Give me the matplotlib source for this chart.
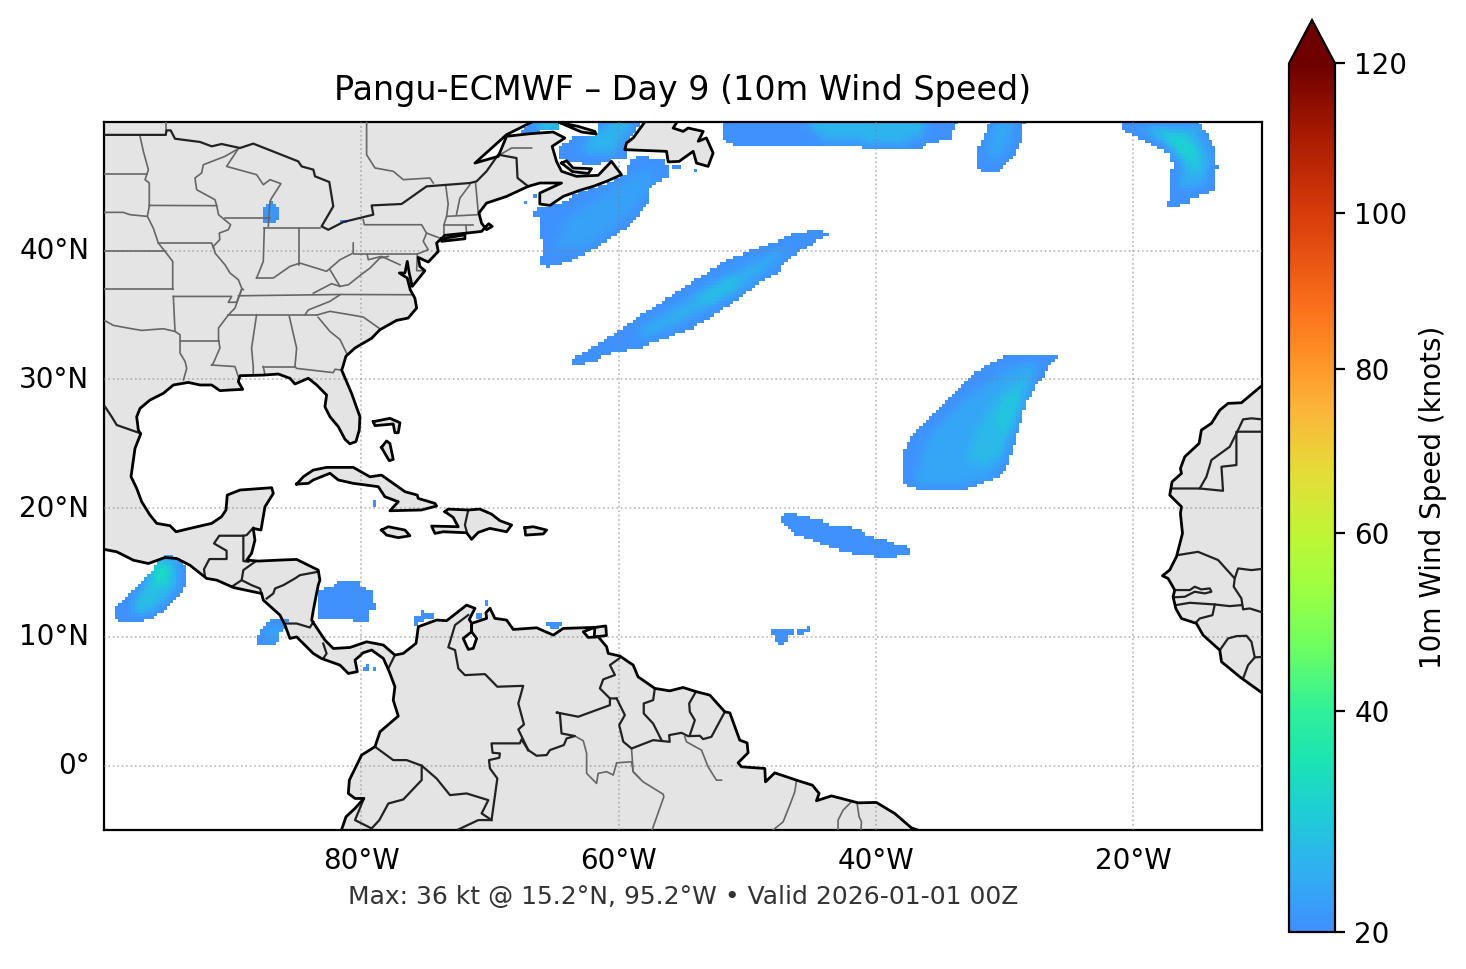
"""Pangu-ECMWF day 9 10m wind speed map over the tropical Atlantic."""

import matplotlib

matplotlib.use("Agg")

import matplotlib.pyplot as plt
import numpy as np
from matplotlib.colors import LinearSegmentedColormap, PowerNorm
from matplotlib.path import Path
from matplotlib.transforms import ScaledTranslation

TITLE = "Pangu-ECMWF – Day 9 (10m Wind Speed)"
FOOTER = "Max: 36 kt @ 15.2°N, 95.2°W • Valid 2026-01-01 00Z"
CBAR_LABEL = "10m Wind Speed (knots)"
CBAR_TICKS = [20, 40, 60, 80, 100, 120]
LON_TICKS = [-80, -60, -40, -20]
LON_LABELS = ["80°W", "60°W", "40°W", "20°W"]
LAT_TICKS = [0, 10, 20, 30, 40]
LAT_LABELS = ["0°", "10°N", "20°N", "30°N", "40°N"]

# colour stops (position along the bar, colour)
CMAP_STOPS = [
    (0.0, "#4090ff"), (0.07, "#2fb0f0"), (0.14, "#1dcfd5"), (0.2, "#1ce5b0"),
    (0.2535, "#2ff09a"), (0.33, "#70ff60"), (0.4, "#a0ff3f"), (0.4585, "#c0f535"),
    (0.53, "#e5dc37"), (0.6, "#fbb63a"), (0.647, "#ff9a2a"), (0.72, "#fa701b"),
    (0.827, "#d83c0b"), (0.92, "#a81a02"), (1.0, "#6e0000"),
]

# land outlines, lon/lat
AMERICAS = [
    (-66.0, 50.4), (-66.9, 49.92), (-68.71, 49.02), (-71.17, 46.81), (-69.36, 47.33), (-68.71, 48.89),
    (-66.9, 49.09), (-65.09, 49.22), (-64.18, 48.76), (-65.17, 48.11), (-64.83, 46.94), (-64.44, 46.17),
    (-63.28, 45.78), (-61.59, 45.86), (-60.56, 46.94), (-59.78, 45.91), (-60.95, 45.39), (-61.98, 45.0),
    (-63.0, 44.7), (-64.31, 44.22), (-65.35, 43.52), (-66.13, 43.63), (-66.13, 44.48), (-64.44, 45.26),
    (-66.13, 45.26), (-67.03, 45.0), (-68.71, 44.22), (-70.27, 43.7), (-70.86, 42.93), (-70.66, 42.15),
    (-70.27, 41.63), (-69.83, 41.89), (-70.1, 42.1), (-70.66, 41.5), (-71.82, 41.37), (-73.5, 41.2),
    (-74.0, 40.73), (-74.15, 40.6), (-74.02, 39.95), (-74.8, 39.12), (-75.58, 39.48), (-75.45, 38.78),
    (-75.06, 38.45), (-76.04, 37.23), (-76.28, 38.27), (-76.43, 39.17), (-76.61, 38.27), (-77.05, 38.27),
    (-76.43, 37.88), (-76.2, 36.97), (-75.84, 36.32), (-75.7, 35.55), (-76.36, 34.77), (-77.26, 34.59),
    (-78.56, 33.86), (-79.2, 33.2), (-80.5, 32.44), (-81.2, 31.8), (-81.45, 30.94), (-81.53, 30.73),
    (-80.76, 28.92), (-80.11, 27.11), (-80.16, 26.07), (-80.42, 25.17), (-80.89, 25.0), (-81.27, 25.35),
    (-81.79, 26.33), (-82.44, 27.11), (-82.83, 27.88), (-82.7, 28.79), (-83.47, 29.57), (-84.12, 30.09),
    (-85.16, 29.65), (-85.55, 30.09), (-86.45, 30.42), (-87.62, 30.34), (-89.43, 30.29), (-89.56, 29.83),
    (-89.22, 29.23), (-90.21, 29.18), (-90.99, 29.13), (-91.63, 29.57), (-92.54, 29.57), (-93.45, 29.77),
    (-94.61, 29.57), (-95.39, 28.92), (-96.43, 28.4), (-97.2, 27.75), (-97.46, 27.1), (-97.33, 26.07),
    (-97.15, 25.76), (-97.59, 24.65), (-97.72, 23.74), (-97.9, 22.45), (-97.46, 21.54), (-97.07, 20.5),
    (-96.43, 19.47), (-95.9, 18.82), (-94.87, 18.64), (-94.4, 18.17), (-93.32, 18.43), (-91.63, 18.82),
    (-90.86, 19.34), (-90.52, 19.86), (-90.42, 21.02), (-89.43, 21.41), (-86.97, 21.59), (-86.84, 21.15),
    (-87.49, 20.11), (-87.62, 19.34), (-87.8, 18.3), (-88.4, 18.43), (-88.27, 17.52), (-88.53, 16.49),
    (-88.91, 15.97), (-88.01, 15.89), (-86.32, 15.97), (-85.03, 16.02), (-83.35, 15.19), (-83.22, 14.42),
    (-83.35, 14.02), (-83.48, 13.38), (-83.73, 12.08), (-83.86, 11.3), (-82.83, 9.75), (-82.18, 9.1),
    (-80.88, 9.18), (-79.59, 9.62), (-78.29, 9.37), (-77.39, 8.59), (-76.74, 8.72), (-75.75, 9.5),
    (-75.57, 10.79), (-74.15, 11.31), (-73.37, 11.26), (-71.82, 12.47), (-71.17, 12.22), (-71.61, 11.36),
    (-71.43, 11.05), (-71.43, 10.4), (-72.08, 9.88), (-71.69, 9.03), (-71.3, 9.11), (-71.04, 9.88),
    (-71.43, 10.4), (-71.43, 11.05), (-70.26, 11.44), (-70.32, 11.88), (-70.0, 12.22), (-69.62, 11.44),
    (-68.71, 11.31), (-68.19, 10.58), (-66.38, 10.71), (-65.08, 10.14), (-64.31, 10.66), (-61.85, 10.74),
    (-62.75, 10.4), (-62.36, 9.96), (-61.59, 10.01), (-60.94, 9.24), (-60.81, 8.72), (-59.9, 8.51),
    (-58.87, 7.81), (-58.49, 6.9), (-57.19, 6.0), (-56.03, 5.81), (-54.99, 6.07), (-53.95, 5.74),
    (-52.92, 5.48), (-51.75, 4.18), (-51.36, 4.1), (-50.59, 1.98), (-50.02, 1.77), (-49.94, 1.0),
    (-50.72, 0.22), (-50.46, -0.09), (-48.64, -0.22), (-48.59, -1.26), (-47.87, -0.56), (-46.18, -1.13),
    (-44.94, -1.52), (-44.42, -2.16), (-44.63, -2.73), (-43.46, -2.35), (-41.39, -2.89), (-39.97, -2.86),
    (-38.54, -3.72), (-37.25, -4.83), (-36.6, -5.06), (-36.0, -6.0), (-82.0, -6.0), (-81.53, -4.96),
    (-81.19, -3.97), (-80.49, -3.32), (-79.8, -2.55), (-80.49, -2.55), (-81.01, -2.16), (-80.93, -1.12),
    (-80.36, 0.04), (-79.98, 0.82), (-78.94, 1.47), (-78.55, 2.63), (-77.13, 3.85), (-77.52, 5.09),
    (-77.39, 6.13), (-77.83, 7.3), (-78.29, 8.33), (-79.2, 8.98), (-79.85, 8.77), (-80.49, 8.2),
    (-80.31, 7.3), (-81.01, 7.16), (-81.66, 7.81), (-83.09, 8.32), (-83.73, 8.71), (-85.03, 10.0),
    (-85.55, 9.88), (-85.93, 10.91), (-86.32, 11.69), (-87.62, 12.86), (-87.75, 13.37), (-89.95, 13.84),
    (-91.24, 14.41), (-92.02, 14.54), (-93.32, 15.57), (-94.35, 16.09), (-95.26, 16.17), (-96.55, 15.7),
    (-97.72, 15.96), (-99.0, 16.61), (-100.0, 16.8), (-101.0, 16.9), (-101.0, 51.0), (-66.0, 51.0),
]
AFRICA = [
    (-9.0, 30.0), (-10.12, 29.43), (-11.6, 28.19), (-12.64, 28.14), (-13.28, 27.62), (-13.93, 26.59),
    (-14.71, 26.07), (-14.89, 25.03), (-16.0, 24.0), (-16.34, 23.09), (-16.26, 22.7), (-16.99, 22.05),
    (-17.17, 21.02), (-16.26, 20.11), (-16.34, 19.59), (-16.18, 18.04), (-16.65, 16.23), (-17.17, 15.2),
    (-17.74, 14.75), (-17.3, 14.54), (-16.78, 13.64), (-16.91, 13.12), (-16.7, 12.21), (-16.26, 11.43),
    (-15.1, 11.05), (-14.58, 10.14), (-13.28, 8.97), (-13.15, 8.07), (-11.73, 6.9), (-10.12, 5.74), (-9.0, 5.0),
]
NEWFOUNDLAND = [
    (-57.7, 51.0), (-57.97, 50.0), (-58.87, 48.76), (-59.39, 48.37), (-59.52, 47.85), (-56.28, 47.72),
    (-56.15, 46.9), (-55.3, 46.94), (-54.21, 47.72), (-53.95, 46.81), (-53.05, 46.55), (-52.66, 47.59),
    (-53.18, 48.76), (-53.82, 48.5), (-53.43, 49.27), (-54.6, 49.53), (-54.99, 49.27), (-55.77, 49.53),
    (-55.51, 49.92), (-55.3, 51.0),
]
ANTICOSTI = [(-64.57, 49.95), (-63.15, 49.66), (-61.85, 49.27), (-61.77, 49.07), (-62.89, 49.22)]
PEI = [(-64.44, 46.81), (-64.05, 46.99), (-63.54, 46.43), (-62.11, 46.37), (-62.37, 46.0), (-63.6, 46.15)]
LONG_ISLAND = [(-73.76, 40.93), (-71.95, 41.24), (-71.95, 40.93), (-73.76, 40.73)]
CUBA = [
    (-85.03, 21.87), (-84.5, 22.45), (-83.74, 22.96), (-82.7, 23.17), (-80.63, 23.17), (-79.33, 22.44),
    (-78.43, 22.57), (-76.61, 21.28), (-75.65, 21.02), (-75.58, 20.76), (-74.28, 20.37), (-74.15, 20.17),
    (-75.32, 19.86), (-77.78, 19.8), (-77.13, 20.5), (-78.17, 20.89), (-78.68, 21.67), (-80.63, 21.93),
    (-81.79, 22.19), (-82.44, 22.71), (-83.74, 22.19), (-84.12, 21.93),
]
GRAND_BAHAMA = [
    (-79.07, 26.72), (-77.78, 26.98), (-77.0, 26.64), (-77.13, 25.86), (-77.39, 25.86), (-77.52, 26.54), (-78.94, 26.41),
]
ANDROS = [(-78.43, 24.72), (-78.04, 25.22), (-77.78, 25.03), (-77.52, 23.79), (-77.83, 23.69), (-78.17, 24.26)]
JAMAICA = [(-78.43, 18.3), (-77.91, 18.56), (-76.61, 18.3), (-76.22, 17.86), (-77.13, 17.71), (-78.04, 17.91)]
HISPANIOLA = [
    (-73.5, 19.73), (-73.25, 19.93), (-71.69, 19.86), (-70.79, 19.93), (-69.88, 19.54), (-69.23, 19.03),
    (-68.32, 18.69), (-68.71, 18.17), (-70.01, 18.43), (-70.91, 18.12), (-71.43, 17.58), (-71.82, 18.09),
    (-73.63, 18.17), (-74.28, 18.04), (-74.54, 18.61), (-72.47, 18.56), (-72.86, 19.28),
]
PUERTO_RICO = [(-67.29, 18.48), (-66.64, 18.56), (-65.6, 18.3), (-65.86, 18.0), (-67.24, 17.91)]
TRINIDAD = [(-61.85, 10.74), (-61.0, 10.85), (-60.95, 10.1), (-61.9, 10.0)]
LANDS = [
    AMERICAS, AFRICA, NEWFOUNDLAND, ANTICOSTI, PEI, LONG_ISLAND, CUBA, GRAND_BAHAMA,
    ANDROS, JAMAICA, HISPANIOLA, PUERTO_RICO, TRINIDAD,
]

# country borders, lon/lat
BORDERS = [
    [(-101.0, 49.0), (-95.21, 49.0), (-95.13, 49.35), (-94.82, 49.35), (-94.48, 48.7), (-92.54, 48.45),
     (-91.63, 48.11), (-90.86, 48.29), (-89.43, 47.98), (-88.4, 48.32), (-84.9, 46.94), (-84.64, 46.55),
     (-83.73, 46.3), (-83.6, 45.78), (-82.49, 45.34), (-82.18, 43.45), (-83.09, 41.89), (-82.57, 41.63),
     (-81.4, 42.23), (-79.07, 42.8), (-79.2, 43.52), (-76.87, 43.63), (-74.93, 45.0), (-71.56, 45.26),
     (-71.04, 45.39), (-70.27, 46.17), (-69.36, 47.46), (-67.94, 47.2), (-67.86, 45.65), (-67.03, 45.0)],
    [(-99.92, 27.88), (-99.4, 27.1), (-99.01, 26.46), (-97.15, 25.81)],
    [(-92.15, 14.67), (-92.23, 15.25), (-91.81, 16.05), (-90.47, 16.05), (-90.47, 16.69), (-91.45, 17.26),
     (-91.04, 17.86), (-89.17, 17.86), (-89.17, 15.89), (-88.78, 15.84)],
    [(-89.17, 17.86), (-88.91, 17.91), (-88.4, 18.48)],
    [(-88.27, 15.83), (-89.17, 15.19), (-89.3, 14.41), (-90.08, 13.89)],
    [(-89.3, 14.41), (-88.53, 14.02), (-87.88, 13.76), (-87.75, 13.37)],
    [(-87.36, 12.98), (-86.84, 13.37), (-86.71, 13.76), (-86.06, 14.02), (-85.16, 14.54), (-84.77, 14.8), (-83.35, 15.06)],
    [(-85.81, 11.04), (-85.03, 11.04), (-84.0, 10.73), (-83.73, 11.17)],
    [(-82.96, 9.48), (-82.7, 8.71), (-82.96, 8.32)],
    [(-77.39, 8.59), (-77.9, 7.55)],
    [(-71.69, 11.7), (-72.72, 10.92), (-73.24, 9.19), (-72.72, 8.98), (-72.46, 7.55), (-71.95, 7.03),
     (-70.39, 7.11), (-69.43, 6.13), (-67.42, 6.2), (-67.8, 4.83), (-67.36, 3.2), (-67.8, 2.81), (-67.03, 1.21)],
    [(-67.03, 1.21), (-67.55, 2.04), (-67.68, 1.73), (-69.88, 1.73), (-69.8, 1.0), (-69.23, 0.95), (-69.28, 0.61),
     (-70.08, 0.43), (-70.0, -0.22), (-69.43, -1.0), (-69.88, -4.23)],
    [(-67.03, 1.21), (-66.38, 0.77), (-65.6, 0.82), (-65.34, 1.21), (-64.26, 1.6), (-64.05, 2.11), (-63.4, 2.3),
     (-64.44, 2.5), (-64.57, 4.06), (-64.83, 4.13), (-63.14, 3.8), (-60.68, 4.7), (-60.68, 5.22), (-60.16, 5.22)],
    [(-59.95, 8.33), (-60.68, 7.81), (-60.29, 7.04), (-61.2, 6.7), (-61.46, 6.0), (-60.68, 5.22)],
    [(-60.16, 5.22), (-59.52, 3.93), (-59.96, 3.15), (-59.64, 1.86), (-59.0, 1.33), (-57.32, 1.98), (-56.03, 1.85),
     (-56.08, 2.37), (-55.12, 2.55), (-54.6, 2.29), (-53.69, 2.32), (-53.44, 2.06), (-52.79, 2.24), (-51.75, 4.18)],
    [(-57.19, 6.0), (-57.32, 5.09), (-58.05, 4.83), (-58.05, 4.05), (-57.32, 3.27), (-56.67, 1.98)],
    [(-54.0, 5.74), (-54.52, 4.83), (-54.47, 4.18), (-54.08, 3.53), (-54.47, 2.37)],
    [(-78.94, 1.47), (-77.52, 0.43), (-76.48, 0.43), (-75.31, 0.0), (-74.15, -1.0), (-73.11, -2.29), (-71.82, -2.16),
     (-70.13, -2.68), (-70.65, -3.71), (-69.88, -4.23), (-70.91, -4.23), (-72.46, -4.96)],
    [(-75.31, 0.0), (-75.31, -1.12), (-76.74, -2.63), (-77.9, -2.94), (-78.6, -4.23), (-79.2, -4.88),
     (-80.49, -4.23), (-79.8, -2.55)],
    [(-17.04, 21.53), (-14.84, 21.53), (-13.03, 21.35), (-13.15, 23.22), (-11.99, 23.35), (-11.99, 25.94), (-9.0, 25.94)],
    [(-14.84, 21.53), (-14.32, 22.44), (-13.93, 23.74), (-12.51, 24.77), (-11.86, 26.07), (-11.47, 26.9),
     (-10.82, 26.98), (-9.0, 26.8)],
    [(-16.52, 16.36), (-14.97, 16.61), (-13.41, 15.97), (-12.12, 14.54), (-11.86, 15.32), (-10.82, 15.19), (-9.0, 15.4)],
    [(-12.12, 14.54), (-12.2, 13.9), (-11.6, 12.99), (-11.47, 12.14), (-10.95, 12.21), (-9.0, 11.6)],
    [(-16.78, 13.64), (-15.61, 13.64), (-15.23, 13.9), (-14.71, 13.69), (-14.06, 13.77), (-13.93, 13.51),
     (-14.45, 13.38), (-15.23, 13.51), (-16.0, 13.12), (-16.91, 13.07)],
    [(-16.7, 12.47), (-15.61, 12.65), (-13.67, 12.52), (-12.51, 12.39), (-11.6, 12.47)],
    [(-13.67, 12.52), (-13.85, 11.69), (-14.84, 11.43), (-15.15, 11.1)],
    [(-13.28, 8.97), (-12.64, 9.88), (-11.99, 10.06), (-11.21, 10.09), (-10.82, 9.62), (-10.56, 8.41), (-9.0, 8.5)],
    [(-10.56, 8.41), (-11.08, 7.81), (-11.42, 6.9)],
]
HAITI_BORDER = [(-71.69, 19.86), (-71.95, 18.69), (-71.77, 18.04)]

# state and province lines, lon/lat
STATES = [
    [(-95.21, 49.0), (-95.21, 51.0)],
    [(-79.59, 51.0), (-79.59, 47.46), (-78.94, 46.43), (-77.52, 46.17), (-76.74, 45.52), (-74.67, 45.65), (-74.41, 45.26)],
    [(-69.23, 47.46), (-68.32, 47.98), (-66.77, 47.98)],
    [(-97.2, 48.89), (-96.94, 47.72), (-96.55, 46.3), (-96.81, 45.52), (-96.48, 45.26), (-96.48, 43.52)],
    [(-101.0, 45.96), (-96.68, 45.96)],
    [(-101.0, 42.98), (-98.5, 42.98), (-97.98, 42.8), (-96.68, 42.67)],
    [(-96.48, 43.52), (-91.24, 43.5)],
    [(-96.48, 43.45), (-96.63, 42.67), (-96.17, 41.76), (-95.78, 40.6), (-95.26, 39.95), (-94.66, 39.17), (-94.66, 37.0)],
    [(-95.78, 40.6), (-91.63, 40.6), (-91.5, 40.2)],
    [(-101.0, 40.0), (-95.26, 40.0)],
    [(-101.0, 37.0), (-94.66, 37.0)],
    [(-94.61, 36.45), (-90.08, 36.45), (-90.34, 35.99), (-89.69, 36.0), (-89.3, 37.0)],
    [(-89.56, 47.93), (-90.6, 47.33), (-92.28, 46.68), (-92.41, 46.04), (-92.93, 45.65), (-92.8, 44.74), (-91.37, 43.96),
     (-91.24, 43.5), (-91.1, 42.8), (-90.16, 42.02), (-90.34, 41.63), (-91.04, 41.37), (-91.0, 40.86), (-91.5, 40.34),
     (-91.37, 39.82), (-90.6, 38.91), (-90.21, 38.27), (-89.56, 37.75), (-89.3, 37.1), (-89.17, 36.97)],
    [(-89.56, 47.93), (-90.47, 46.55), (-88.14, 45.91), (-87.62, 45.13), (-87.1, 45.52), (-86.25, 45.21), (-86.97, 44.09),
     (-87.1, 43.83), (-87.23, 41.9)],
    [(-90.6, 42.54), (-87.1, 42.54)],
    [(-87.54, 41.76), (-87.62, 39.17), (-88.14, 37.88)],
    [(-84.82, 41.76), (-84.82, 38.91)],
    [(-87.54, 41.76), (-83.2, 41.76)],
    [(-88.14, 37.88), (-86.84, 37.88), (-85.55, 38.78), (-84.77, 39.04), (-82.7, 38.4), (-81.66, 39.3), (-80.63, 39.82), (-80.63, 40.6)],
    [(-89.56, 36.5), (-81.66, 36.6), (-75.97, 36.58)],
    [(-89.3, 37.0), (-89.82, 35.55), (-90.34, 35.0), (-91.1, 34.0), (-91.1, 33.09), (-90.99, 32.44), (-91.5, 31.27), (-91.63, 31.12)],
    [(-90.34, 35.0), (-83.47, 35.0)],
    [(-88.14, 35.03), (-88.53, 32.44), (-88.4, 31.0), (-88.4, 30.47)],
    [(-85.6, 34.9), (-85.03, 32.44), (-85.16, 31.0), (-85.03, 30.86), (-82.18, 30.53), (-82.05, 30.79), (-81.53, 30.73)],
    [(-83.35, 34.82), (-82.44, 33.73), (-81.66, 33.1), (-81.15, 32.05)],
    [(-83.47, 35.0), (-82.44, 35.29), (-80.89, 35.03), (-79.85, 34.85), (-78.56, 33.94)],
    [(-84.38, 35.03), (-84.12, 35.4), (-82.44, 36.07), (-81.66, 36.58)],
    [(-83.73, 36.7), (-82.31, 37.44), (-81.66, 37.23), (-81.0, 37.36), (-79.85, 38.27), (-79.33, 38.65), (-78.56, 39.43), (-77.9, 39.56)],
    [(-82.44, 38.53), (-81.66, 37.23)],
    [(-80.58, 39.74), (-75.7, 39.74)],
    [(-94.61, 36.45), (-94.48, 33.73), (-94.09, 33.47), (-94.09, 33.0), (-94.09, 32.05), (-93.7, 31.4), (-93.57, 30.86), (-93.83, 29.96)],
    [(-94.09, 33.0), (-91.1, 33.0)],
    [(-99.92, 34.56), (-99.27, 34.2), (-97.85, 33.94), (-97.07, 33.81), (-95.39, 33.94), (-94.48, 33.73)],
    [(-91.63, 31.12), (-89.82, 31.0), (-89.56, 30.21)],
    [(-87.62, 31.0), (-85.16, 31.0)],
    [(-87.62, 31.0), (-87.5, 30.4)],
    [(-79.85, 42.41), (-79.77, 42.02), (-75.32, 42.02), (-74.93, 41.37), (-73.89, 40.98)],
    [(-74.93, 41.37), (-75.19, 40.73), (-74.8, 40.08), (-75.65, 39.74)],
    [(-73.43, 45.0), (-73.25, 43.63), (-73.37, 42.67), (-73.58, 42.02), (-73.58, 41.2)],
    [(-71.56, 45.13), (-72.34, 44.09), (-72.6, 42.84)],
    [(-71.12, 45.26), (-70.91, 42.93)],
    [(-73.37, 42.67), (-70.91, 42.8)],
    [(-73.58, 41.97), (-71.3, 41.97)],
    [(-71.87, 41.97), (-71.82, 41.37)],
    [(-75.65, 39.74), (-75.7, 38.45), (-75.06, 38.45)],
    [(-79.54, 39.69), (-79.46, 39.3), (-78.43, 39.56), (-77.0, 38.91)],
    [(-54.86, 2.24), (-54.73, 1.85), (-53.56, 1.2), (-53.05, -0.09), (-52.4, -1.13), (-52.01, -1.13)],
    [(-59.0, 1.33), (-58.87, -0.48), (-58.1, -1.26), (-56.54, -2.22), (-56.49, -2.42), (-57.58, -5.5)],
    [(-46.18, -1.13), (-46.31, -2.03), (-46.7, -3.07), (-47.22, -4.37), (-48.25, -5.2)],
    [(-41.91, -2.81), (-42.56, -3.46), (-42.95, -4.24), (-42.95, -5.5)],
    [(-41.47, -2.94), (-41.31, -3.98), (-41.13, -4.37), (-41.21, -5.5)],
    [(-63.4, 2.3), (-62.75, 1.93), (-62.49, 0.95), (-62.49, -0.6), (-61.72, -1.38), (-61.59, -0.6), (-60.94, -0.47),
     (-60.42, -0.73), (-60.16, 0.22), (-59.0, 0.3), (-58.87, -0.48), (-58.35, -1.0)],
]

# wind patches: outline in lon/lat at the edge speed, then inner areas with their speed
EDGE_SPEED = 20.3
TEHUANTEPEC = [
    (-96.04, 15.7), (-96.17, 15.19), (-97.07, 14.28), (-98.5, 12.86), (-99.14, 12.08), (-99.14, 11.43), (-98.63, 11.17),
    (-97.2, 11.17), (-96.04, 11.56), (-95.18, 12.21), (-94.48, 12.98), (-93.96, 13.5), (-93.63, 14.15), (-93.63, 15.32),
    (-93.96, 15.96), (-94.74, 16.35), (-95.26, 16.3),
]
TEHUANTEPEC_CORE = [
    (27, [(-97.8, 12.4), (-95.6, 15.9), (-94.5, 15.8), (-94.3, 14.2), (-96.0, 12.3), (-97.5, 11.8)]),
    (32, [(-96.3, 14.6), (-95.6, 15.9), (-95.0, 15.7), (-95.0, 14.3), (-96.0, 13.9)]),
    (36, [(-95.9, 15.2), (-95.6, 15.6), (-95.3, 15.2), (-95.5, 14.6)]),
]
CARIBBEAN = [
    (-83.35, 13.63), (-82.18, 13.89), (-81.66, 14.36), (-80.16, 14.36), (-80.16, 13.89), (-79.2, 13.63), (-79.2, 12.65),
    (-78.86, 12.6), (-78.86, 12.13), (-79.46, 12.13), (-79.46, 11.17), (-82.18, 11.35), (-83.35, 11.43),
]
COSTA_RICA = [
    (-87.1, 11.35), (-86.06, 11.35), (-85.68, 11.25), (-85.93, 10.78), (-86.45, 10.06), (-86.45, 9.62), (-86.89, 9.36),
    (-88.08, 9.36), (-88.08, 10.06), (-87.49, 10.91),
]
COSTA_RICA_CORE = [(24, [(-87.4, 10.1), (-86.6, 10.9), (-86.3, 10.5), (-86.8, 9.8)])]
MICHIGAN = [
    (-87.41, 43.63), (-87.1, 43.83), (-86.63, 43.63), (-86.4, 43.06), (-86.4, 42.62), (-86.63, 42.07), (-87.62, 42.07), (-87.62, 43.06),
]
MICHIGAN_CORE = [(24, [(-87.1, 43.2), (-86.8, 43.2), (-86.8, 42.5), (-87.2, 42.5)])]
COLOMBIA_COAST = [
    (-75.91, 10.87), (-75.91, 11.57), (-75.31, 11.83), (-75.31, 12.14), (-75.13, 12.14), (-75.13, 11.83), (-74.46, 11.83),
    (-74.46, 11.36), (-75.18, 11.26), (-75.65, 11.18), (-75.65, 10.87),
]
VENEZUELA_GULF = [(-71.17, 11.36), (-71.17, 11.62), (-70.9, 11.83), (-70.63, 11.83), (-70.63, 11.36)]
ARUBA = [(-70.4, 12.4), (-70.4, 12.87), (-70.17, 12.87), (-70.17, 12.4)]
VENEZUELA_COAST = [(-65.65, 11.13), (-64.44, 11.13), (-64.44, 10.84), (-64.7, 10.66), (-65.34, 10.66), (-65.6, 10.84)]
MID_ATL_WEST = [
    (-48.17, 10.34), (-47.94, 10.58), (-47.34, 10.58), (-47.34, 10.84), (-47.16, 10.58), (-46.39, 10.58), (-46.39, 10.19),
    (-46.95, 10.19), (-46.95, 9.62), (-47.21, 9.41), (-47.6, 9.41), (-47.6, 9.62), (-47.94, 9.62), (-47.94, 9.93),
]
MID_ATL_EAST = [
    (-46.13, 10.58), (-45.46, 10.58), (-45.4, 10.84), (-45.14, 10.84), (-45.14, 10.4), (-45.66, 10.4), (-45.66, 10.19), (-46.13, 10.19),
]
SLIVER = [
    (-47.4, 19.38), (-46.9, 19.59), (-46.18, 19.51), (-45.01, 19.25), (-44.1, 19.07), (-43.64, 18.68), (-42.16, 18.55),
    (-41.2, 18.3), (-40.87, 17.86), (-39.96, 17.7), (-39.18, 17.6), (-38.67, 17.26), (-37.68, 17.13), (-37.45, 16.87),
    (-37.45, 16.35), (-39.18, 16.15), (-41.2, 16.35), (-42.42, 16.61), (-43.2, 16.92), (-44.1, 17.13), (-44.68, 17.39),
    (-45.4, 17.65), (-46.13, 17.86), (-46.7, 18.37), (-47.4, 18.87),
]
BIG_PATCH = [
    (-37.89, 24.33), (-37.37, 25.37), (-36.34, 26.58), (-35.56, 27.36), (-34.52, 28.4), (-33.36, 29.61), (-32.19, 30.6),
    (-30.64, 31.5), (-29.86, 31.89), (-27.22, 31.89), (-25.98, 31.76), (-26.55, 31.06), (-26.88, 30.21), (-27.53, 29.61),
    (-27.92, 28.79), (-28.44, 28.01), (-28.7, 26.84), (-29.13, 25.42), (-29.47, 24.12), (-29.73, 23.35), (-29.99, 22.88),
    (-30.64, 22.31), (-32.45, 21.66), (-33.23, 21.4), (-36.6, 21.4), (-37.63, 21.66), (-37.89, 21.92), (-37.89, 22.62),
]
BIG_PATCH_CORE = [
    (23, [(-37.0, 22.0), (-36.0, 25.5), (-33.0, 28.5), (-30.0, 30.6), (-27.6, 31.4), (-27.8, 29.8), (-29.2, 27.0),
          (-30.0, 24.0), (-31.0, 22.5), (-34.0, 21.8)]),
    (26, [(-33.0, 23.8), (-32.0, 26.5), (-30.0, 29.2), (-28.0, 30.5), (-28.4, 29.0), (-29.5, 26.5), (-30.1, 24.2), (-31.5, 23.3)]),
    (28, [(-30.7, 27.0), (-30.2, 28.5), (-28.9, 29.5), (-28.7, 28.2), (-29.5, 26.0), (-30.2, 25.6)]),
]
STREAK = [
    (-63.67, 31.53), (-62.76, 32.05), (-60.69, 33.35), (-59.91, 33.86), (-58.23, 35.03), (-57.32, 35.55), (-54.21, 37.62),
    (-52.01, 39.04), (-50.07, 39.95), (-47.74, 40.73), (-46.31, 41.37), (-44.89, 41.58), (-44.16, 41.58), (-43.72, 41.24),
    (-44.24, 40.99), (-44.76, 40.52), (-45.92, 40.0), (-46.96, 39.17), (-47.61, 38.27), (-49.03, 37.49), (-50.07, 36.71),
    (-51.1, 35.94), (-52.92, 34.77), (-54.21, 33.99), (-56.28, 33.22), (-58.36, 32.44), (-59.91, 32.18), (-61.21, 31.79),
    (-61.85, 31.35), (-63.67, 31.14),
]
STREAK_CORE = [
    (24, [(-58.5, 33.8), (-54.5, 36.3), (-50.0, 38.9), (-47.0, 40.2), (-48.0, 39.0), (-50.5, 37.0), (-54.5, 34.8), (-58.0, 33.2)]),
    (27, [(-54.0, 36.4), (-51.5, 38.0), (-50.5, 37.5), (-53.0, 35.8)]),
]
NOVA_SCOTIA_SEA = [
    (-66.64, 43.06), (-66.13, 43.37), (-64.57, 43.63), (-63.15, 44.48), (-60.82, 45.26), (-59.39, 46.04), (-59.13, 47.07),
    (-58.23, 47.33), (-56.28, 47.07), (-56.15, 45.65), (-56.93, 45.39), (-57.71, 44.61), (-57.71, 43.71), (-59.13, 41.89),
    (-60.04, 41.37), (-60.95, 40.73), (-62.24, 39.95), (-63.67, 39.17), (-64.62, 38.96), (-65.66, 38.71), (-66.13, 38.96),
    (-65.87, 40.08), (-66.13, 41.76), (-66.13, 42.54), (-66.64, 42.67),
]
NOVA_SCOTIA_SEA_CORE = [(22, [(-65.0, 40.0), (-64.0, 42.5), (-61.0, 44.5), (-58.0, 46.3), (-57.0, 45.8), (-58.2, 44.0), (-60.0, 42.0), (-63.0, 40.0)])]
GULF_ST_LAWRENCE = [
    (-64.62, 48.11), (-63.41, 48.81), (-61.72, 49.02), (-61.72, 50.5), (-57.97, 50.5), (-58.87, 49.02), (-59.26, 48.37),
    (-59.44, 47.2), (-60.56, 47.07), (-61.85, 46.48), (-64.31, 47.07), (-64.62, 47.33),
]
GULF_ST_LAWRENCE_CORE = [(25, [(-63.0, 48.0), (-60.0, 50.5), (-58.6, 50.5), (-60.5, 47.5), (-62.0, 47.5)])]
ESTUARY = [(-67.68, 49.22), (-66.9, 49.92), (-66.7, 50.5), (-64.57, 50.5), (-64.57, 49.4), (-66.38, 49.22)]
ESTUARY_CORE = [(27, [(-66.3, 49.5), (-66.3, 50.5), (-64.7, 50.5), (-64.7, 49.5)]), (30, [(-65.9, 49.7), (-65.9, 50.5), (-65.0, 50.5), (-65.0, 49.7)])]
TOP_BAND = [
    (-51.88, 50.5), (-51.88, 48.63), (-51.1, 48.19), (-43.12, 48.19), (-39.7, 47.85), (-36.46, 47.85), (-35.94, 48.37),
    (-34.26, 48.63), (-33.95, 49.4), (-33.41, 50.5),
]
TOP_BAND_CORE = [(25, [(-46.0, 50.5), (-44.0, 48.7), (-38.0, 48.3), (-36.5, 49.0), (-36.0, 50.5)])]
NORTH_BLOB = [
    (-31.15, 50.5), (-28.43, 50.5), (-28.69, 48.63), (-28.95, 47.85), (-29.47, 47.07), (-29.91, 46.81), (-30.51, 46.17),
    (-31.93, 46.17), (-32.14, 46.43), (-32.14, 47.85), (-31.67, 48.76), (-31.36, 49.4),
]
NORTH_BLOB_CORE = [(23, [(-30.6, 50.5), (-29.2, 50.5), (-29.8, 48.0), (-31.0, 47.0), (-31.3, 48.0)])]
AZORES_ARC = [
    (-21.18, 50.5), (-20.66, 49.27), (-20.02, 48.89), (-18.98, 48.37), (-17.69, 47.85), (-17.17, 47.46), (-16.91, 46.43),
    (-17.17, 45.91), (-17.17, 44.09), (-17.37, 43.37), (-16.39, 43.45), (-15.74, 43.71), (-15.48, 44.09), (-13.72, 44.66),
    (-13.72, 46.17), (-13.46, 46.43), (-13.67, 47.85), (-13.93, 48.63), (-14.45, 49.4), (-15.1, 50.5),
]
AZORES_ARC_CORE = [
    (24, [(-19.5, 49.6), (-17.5, 48.5), (-16.2, 46.8), (-16.3, 44.8), (-14.3, 45.2), (-14.2, 47.5), (-15.0, 49.5)]),
    (28, [(-18.8, 49.3), (-17.0, 48.2), (-15.6, 46.2), (-14.6, 46.2), (-14.8, 47.8), (-16.0, 49.2)]),
    (31, [(-18.0, 49.0), (-16.5, 48.0), (-15.5, 47.0), (-15.0, 47.3), (-16.0, 48.8)]),
]
WIND_PATCHES = [
    (TEHUANTEPEC, TEHUANTEPEC_CORE), (CARIBBEAN, []), (COSTA_RICA, COSTA_RICA_CORE), (MICHIGAN, MICHIGAN_CORE),
    (COLOMBIA_COAST, []), (VENEZUELA_GULF, []), (ARUBA, []), (VENEZUELA_COAST, []), (MID_ATL_WEST, []), (MID_ATL_EAST, []),
    (SLIVER, []), (BIG_PATCH, BIG_PATCH_CORE), (STREAK, STREAK_CORE), (NOVA_SCOTIA_SEA, NOVA_SCOTIA_SEA_CORE),
    (GULF_ST_LAWRENCE, GULF_ST_LAWRENCE_CORE), (ESTUARY, ESTUARY_CORE), (TOP_BAND, TOP_BAND_CORE),
    (NORTH_BLOB, NORTH_BLOB_CORE), (AZORES_ARC, AZORES_ARC_CORE),
]
WIND_SPOTS = [
    (-79.72, 7.55), (-79.5, 7.67), (-79.5, 7.49), (-79.02, 7.49), (-81.4, 42.28), (-81.2, 42.28), (-67.29, 43.76),
    (-66.59, 44.22), (-54.08, 46.24), (-55.8, 46.5), (-55.5, 46.5), (-55.3, 46.5), (-79.1, 20.5), (-79.1, 20.3),
]

# 0.25 degree model grid
grid_lon = np.arange(-100, -9.99, 0.25)
grid_lat = np.arange(-5, 50.01, 0.25)
lon2d, lat2d = np.meshgrid(grid_lon, grid_lat)
cell_centres = np.column_stack([lon2d.ravel(), lat2d.ravel()])

wind = np.zeros(lon2d.shape)
for outline, cores in WIND_PATCHES:
    inside = Path(outline).contains_points(cell_centres).reshape(lon2d.shape)
    wind[inside] = EDGE_SPEED
    for speed, area in cores:
        in_core = Path(area).contains_points(cell_centres).reshape(lon2d.shape)
        wind[inside & in_core] = speed
mask = wind > 0

# soften the steps between inner areas, keeping the patch edges
for _ in range(2):
    total = np.zeros(wind.shape)
    count = np.zeros(wind.shape)
    for dy in (-1, 0, 1):
        for dx in (-1, 0, 1):
            total += np.roll(np.roll(wind, dy, axis=0), dx, axis=1)
            count += np.roll(np.roll(mask, dy, axis=0), dx, axis=1)
    wind = np.where(mask, total / np.maximum(count, 1), 0)

for spot_lon, spot_lat in WIND_SPOTS:
    row = np.argmin(np.abs(grid_lat - spot_lat))
    col = np.argmin(np.abs(grid_lon - spot_lon))
    wind[row, col] = EDGE_SPEED

cmap = LinearSegmentedColormap.from_list("wind", CMAP_STOPS, N=256)
cmap.set_extremes(over="#6e0000")
norm = PowerNorm(gamma=0.85, vmin=20, vmax=120)

fig = plt.figure(figsize=(7.33, 4.845), dpi=200)
ax = fig.add_axes([104 / 1466, 1 - 830 / 969, 1158 / 1466, 708 / 969])
ax.set_xlim(-100, -10)
ax.set_ylim(-5, 50)

for land in LANDS:
    lons, lats = zip(*land)
    ax.fill(lons, lats, color="#e4e4e4", lw=0, zorder=1)

mesh = ax.pcolormesh(
    grid_lon, grid_lat, np.ma.masked_where(wind <= 0, wind),
    cmap=cmap, norm=norm, shading="nearest", zorder=2,
)

ax.set_xticks(LON_TICKS, LON_LABELS, fontsize=10)
ax.set_yticks(LAT_TICKS, LAT_LABELS, fontsize=10)
ax.tick_params(length=0, pad=6)
ax.tick_params(axis="y", pad=5.3)
ax.grid(True, color="gray", alpha=0.55, ls=":", lw=0.6, zorder=3)
ax.set_axisbelow(False)

# latitude labels sit a little above their gridlines
lift = ScaledTranslation(0, 2.5 / 200, fig.dpi_scale_trans)
for label in ax.get_yticklabels():
    label.set_transform(label.get_transform() + lift)

for line in STATES:
    lons, lats = zip(*line)
    ax.plot(lons, lats, color="#666666", lw=0.6, zorder=4)
for line in BORDERS + [HAITI_BORDER]:
    lons, lats = zip(*line)
    ax.plot(lons, lats, color="#222222", lw=0.8, zorder=5)
for land in LANDS:
    lons, lats = zip(*(land + land[:1]))
    ax.plot(lons, lats, color="black", lw=1.0, zorder=6)

ax.set_title(TITLE, fontsize=12, pad=8)
fig.text(683 / 1466, 1 - 897 / 969, FOOTER, fontsize=9, color="#333333", ha="center", va="center")

# the axes include the arrow on top of the 868 pixel bar
cax = fig.add_axes([1289 / 1466, 1 - 932 / 969, 46 / 1466, 912 / 969])
cbar = fig.colorbar(mesh, cax=cax, extend="max", ticks=CBAR_TICKS)
cbar.set_label(CBAR_LABEL, fontsize=10)
cbar.ax.tick_params(labelsize=10)

fig.savefig("out.png", dpi=200)
plt.close(fig)
